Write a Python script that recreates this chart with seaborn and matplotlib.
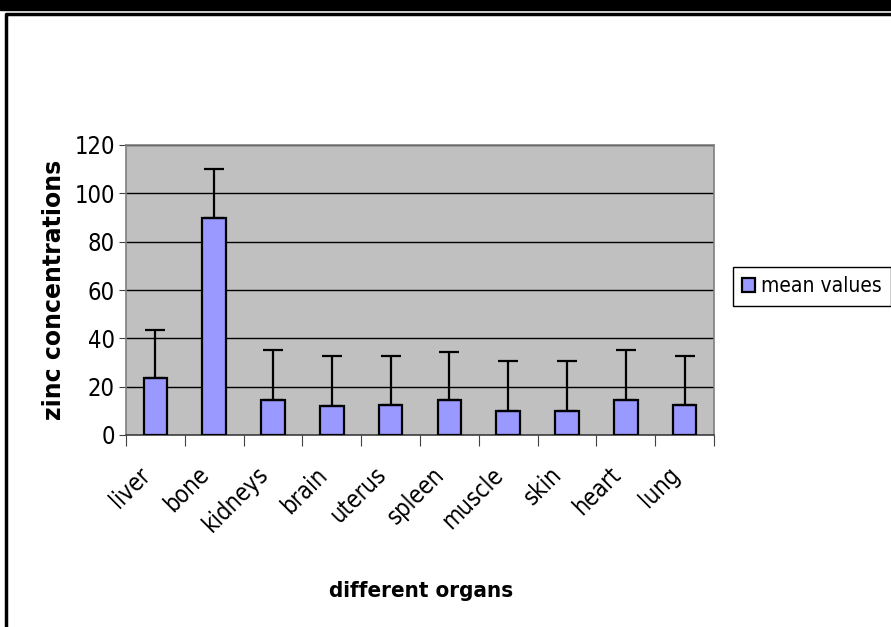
import matplotlib
matplotlib.use('Agg')
import matplotlib.pyplot as plt
import matplotlib.transforms as mtransforms
from matplotlib.lines import Line2D
from matplotlib.patches import Rectangle
import seaborn as sns
import pandas as pd

# 데이터
organs = ['liver', 'bone', 'kidneys', 'brain', 'uterus',
          'spleen', 'muscle', 'skin', 'heart', 'lung']
mean_values = [23.5, 90, 14.5, 11.8, 12.6, 14.5, 10, 10, 14.5, 12.6]
upper_err = [19.8, 20, 20.7, 20.8, 20.0, 19.9, 20.6, 20.6, 20.7, 20.0]

df = pd.DataFrame({'organ': organs, 'mean values': mean_values})

sns.set_style('white')
plt.rcParams['font.family'] = ['DejaVu Sans']
plt.rcParams['font.stretch'] = 'condensed'
for k in ['text.color', 'axes.labelcolor', 'xtick.color', 'ytick.color']:
    plt.rcParams[k] = 'black'

fig = plt.figure(figsize=(8.91, 6.27), dpi=100)
ax = fig.add_axes([126 / 891, 1 - 435 / 627, 588 / 891, 290 / 627])

sns.barplot(data=df, x='organ', y='mean values', ax=ax, color='#9999FF',
            edgecolor='black', linewidth=1.6, width=0.4, saturation=1,
            label='mean values', zorder=3)
ax.errorbar(range(len(organs)), mean_values,
            yerr=[[0] * len(organs), upper_err], fmt='none',
            ecolor='black', elinewidth=1.6, capsize=7, capthick=1.6, zorder=4)

ax.set_facecolor('#C0C0C0')
ax.set_ylim(0, 120)
ax.set_xlim(-0.5, len(organs) - 0.5)
ax.set_yticks(range(0, 121, 20))
ax.yaxis.grid(True, color='black', linewidth=1)
ax.set_axisbelow(True)
for s in ax.spines.values():
    s.set_color('#808080')
    s.set_linewidth(1.2)
ax.spines['bottom'].set_color('#404040')

# x ticks at the boundaries, labels at the centres
ax.set_xticks([i - 0.5 for i in range(len(organs) + 1)])
ax.set_xticklabels([])
ax.set_xticks(range(len(organs)), minor=True)
ax.set_xticklabels(organs, minor=True, rotation=45, ha='right',
                   rotation_mode='anchor', fontsize=17)
ax.tick_params(axis='x', which='major', length=8, color='#404040', direction='out', bottom=True)
ax.tick_params(axis='x', which='minor', length=0, pad=20)
ax.tick_params(axis='y', length=5, color='#404040', direction='out', left=True,
               labelsize=17, pad=3)
offset = mtransforms.ScaledTranslation(-17 / 100, 0, fig.dpi_scale_trans)
for lbl in ax.get_xticklabels(minor=True):
    lbl.set_transform(lbl.get_transform() + offset)

ax.set_xlabel('different organs', fontsize=16, fontweight='bold')
ax.xaxis.set_label_coords((421 - 126) / 588, -(591 - 435) / 290)
ax.xaxis.label.set_va('center')
ax.set_ylabel('zinc concentrations', fontsize=17, fontweight='bold',
              fontstretch='normal')
ax.yaxis.set_label_coords((54 - 126) / 588, (435 - 290) / 290)
ax.yaxis.label.set_va('center')

leg = ax.legend(loc='upper left', bbox_to_anchor=(733 / 891, 1 - 267 / 627),
                bbox_transform=fig.transFigure, fontsize=15, frameon=True,
                fancybox=False, edgecolor='black', framealpha=1,
                handlelength=0.6, handleheight=0.6, handletextpad=0.3,
                borderpad=0.45, borderaxespad=0)
leg.get_frame().set_linewidth(1)

# 바깥 테두리
fig.add_artist(Rectangle((0, 1 - 10 / 627), 1, 10 / 627, transform=fig.transFigure,
                         color='black', zorder=10))
fig.add_artist(Line2D([6 / 891, 6 / 891, 1], [0, 1 - 14 / 627, 1 - 14 / 627],
                      transform=fig.transFigure, color='black', linewidth=2.5))

plt.savefig('out.png', dpi=100)
